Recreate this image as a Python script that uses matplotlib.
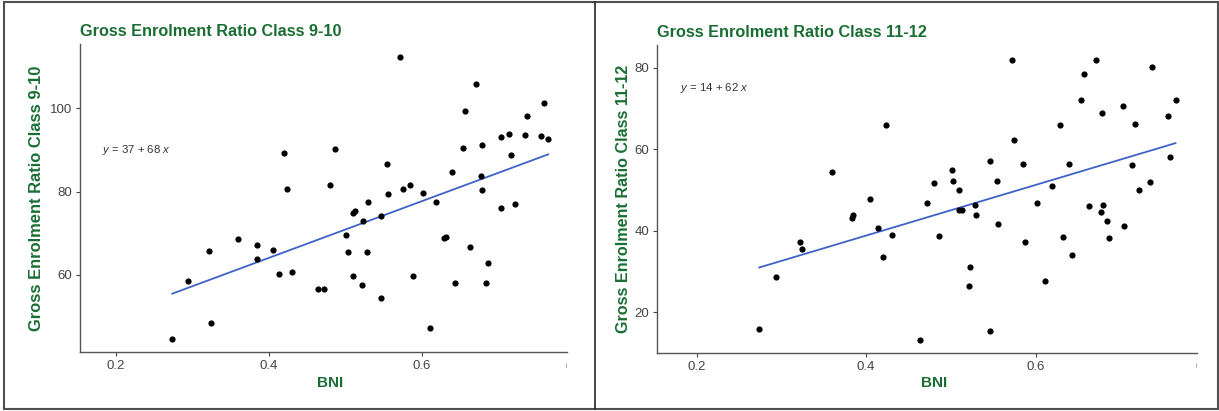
import numpy as np
import matplotlib
matplotlib.use('Agg')
import matplotlib.pyplot as plt
from matplotlib.patches import Rectangle
from matplotlib.lines import Line2D
from matplotlib.transforms import Bbox, TransformedBbox, blended_transform_factory

plt.rcParams['font.family'] = ['Liberation Sans', 'DejaVu Sans']
plt.rcParams['mathtext.fontset'] = 'custom'
plt.rcParams['mathtext.rm'] = 'Liberation Sans'
plt.rcParams['mathtext.it'] = 'Liberation Sans:italic'

GREEN = '#1a6e34'
TICK_COLOR = '#444444'

# BNI of each state (shared by both panels)
bni = [0.274, 0.294, 0.322, 0.324, 0.360, 0.384, 0.385, 0.405, 0.414, 0.420,
       0.424, 0.431, 0.464, 0.472, 0.480, 0.486, 0.501, 0.503, 0.510, 0.510,
       0.513, 0.522, 0.523, 0.528, 0.530, 0.546, 0.546, 0.555, 0.556, 0.572,
       0.575, 0.585, 0.588, 0.602, 0.611, 0.619, 0.629, 0.632, 0.639, 0.643,
       0.654, 0.657, 0.663, 0.671, 0.678, 0.677, 0.679, 0.684, 0.686, 0.703,
       0.704, 0.714, 0.717, 0.722, 0.735, 0.737, 0.756, 0.759, 0.765]

ger_9_10 = [44.5, 58.5, 65.6, 48.4, 68.5, 67.2, 63.7, 66.0, 60.2, 89.4,
            80.6, 60.7, 56.6, 56.6, 81.5, 90.2, 69.6, 65.4, 59.6, 74.8,
            75.4, 57.6, 72.9, 65.4, 77.4, 54.5, 74.2, 86.7, 79.4, 112.3,
            80.6, 81.5, 59.6, 79.7, 47.2, 77.4, 68.9, 69.0, 84.8, 58.1,
            90.5, 99.5, 66.6, 105.9, 91.1, 83.7, 80.4, 58.0, 62.8, 76.0,
            93.1, 93.9, 88.9, 76.9, 93.7, 98.1, 93.3, 101.3, 92.7]

ger_11_12 = [15.8, 28.7, 37.2, 35.5, 54.4, 43.2, 43.8, 47.8, 40.7, 33.6,
             65.9, 38.9, 13.1, 46.9, 51.8, 38.7, 54.9, 52.1, 50.0, 45.1,
             45.2, 26.4, 31.1, 46.3, 43.8, 57.2, 15.3, 52.2, 41.6, 82.0,
             62.4, 56.5, 37.2, 46.9, 27.6, 50.9, 65.9, 38.5, 56.5, 34.0,
             72.2, 78.4, 46.0, 81.9, 69.0, 44.5, 46.3, 42.4, 38.2, 70.7,
             41.2, 56.1, 66.3, 50.1, 52.0, 80.3, 68.2, 58.1, 72.1]

titles = ['Gross Enrolment Ratio Class 9-10', 'Gross Enrolment Ratio Class 11-12']
equations = [r'$y$ = 37 + 68 $x$', r'$y$ = 14 + 62 $x$']
eq_pos = [(0.182, 90), (0.181, 75)]
yticks = [[60, 80, 100], [20, 40, 60, 80]]
ylims = [(41.35, 115.5), (10.0, 85.6)]
xticks = [0.2, 0.4, 0.6]


def draw_panel(ax, y, title, eq, pos, yt, ylim, ylab_x, ylab_size):
    ax.scatter(bni, y, s=20, color='black', linewidths=0, zorder=3)
    k, b = np.polyfit(bni, y, 1)
    xs = np.array([min(bni), max(bni)])
    ax.plot(xs, b + k * xs, color='#3f62c8', lw=1.3, zorder=2)
    ax.text(pos[0], pos[1], eq, ha='left', va='center', fontsize=8.2, color='#333333')

    ax.set_xlim(0.1534, 0.79)
    ax.set_ylim(*ylim)
    ax.set_xticks(xticks)
    ax.set_xticklabels(['0.2', '0.4', '0.6'])
    ax.set_yticks(yt)
    for s in ['top', 'right']:
        ax.spines[s].set_visible(False)
    for s in ['left', 'bottom']:
        ax.spines[s].set_color('#555555')
        ax.spines[s].set_linewidth(1.0)
    ax.tick_params(length=3, width=0.8, color='#444444', labelcolor=TICK_COLOR,
                   labelsize=9.5, pad=2.5)

    # tick label 0.8 cut off at the right edge
    tr = blended_transform_factory(ax.transData, ax.transAxes)
    t = ax.text(0.8, -0.047, '0.8', transform=tr, ha='center', va='center',
                fontsize=9.5, color=TICK_COLOR, clip_on=True)
    t.set_clip_box(TransformedBbox(Bbox([[0, -0.3], [1, 1]]), ax.transAxes))

    ax.set_title(title, loc='left', fontsize=11.7, fontweight='bold', color=GREEN, pad=6)
    ax.set_xlabel('BNI', fontsize=11, fontweight='bold', color=GREEN)
    ax.xaxis.set_label_coords(0.513, -0.076)
    ax.set_ylabel(title, fontsize=ylab_size, fontweight='bold', color=GREEN)
    ax.yaxis.set_label_coords(ylab_x, 0.5)


fig = plt.figure(figsize=(12.19, 4.11), dpi=100)
ax1 = fig.add_axes([80 / 1219, 58.7 / 411, 487.3 / 1219, 308.3 / 411])
ax2 = fig.add_axes([657 / 1219, 58 / 411, 539.7 / 1219, 308 / 411])

draw_panel(ax1, ger_9_10, titles[0], equations[0], eq_pos[0], yticks[0], ylims[0], -0.074, 11.9)
draw_panel(ax2, ger_11_12, titles[1], equations[1], eq_pos[1], yticks[1], ylims[1], -0.049, 11.6)

# frame around the two panels and the divider
fig.patches.append(Rectangle((4 / 1219, 2.5 / 411), 1213.5 / 1219, 406 / 411,
                             transform=fig.transFigure, fill=False,
                             edgecolor='#505050', lw=1.5))
fig.lines.append(Line2D([595.3 / 1219, 595.3 / 1219], [2.5 / 411, 408.5 / 411],
                        transform=fig.transFigure, color='#222222', lw=1.2))

fig.savefig('out.png', dpi=100)
